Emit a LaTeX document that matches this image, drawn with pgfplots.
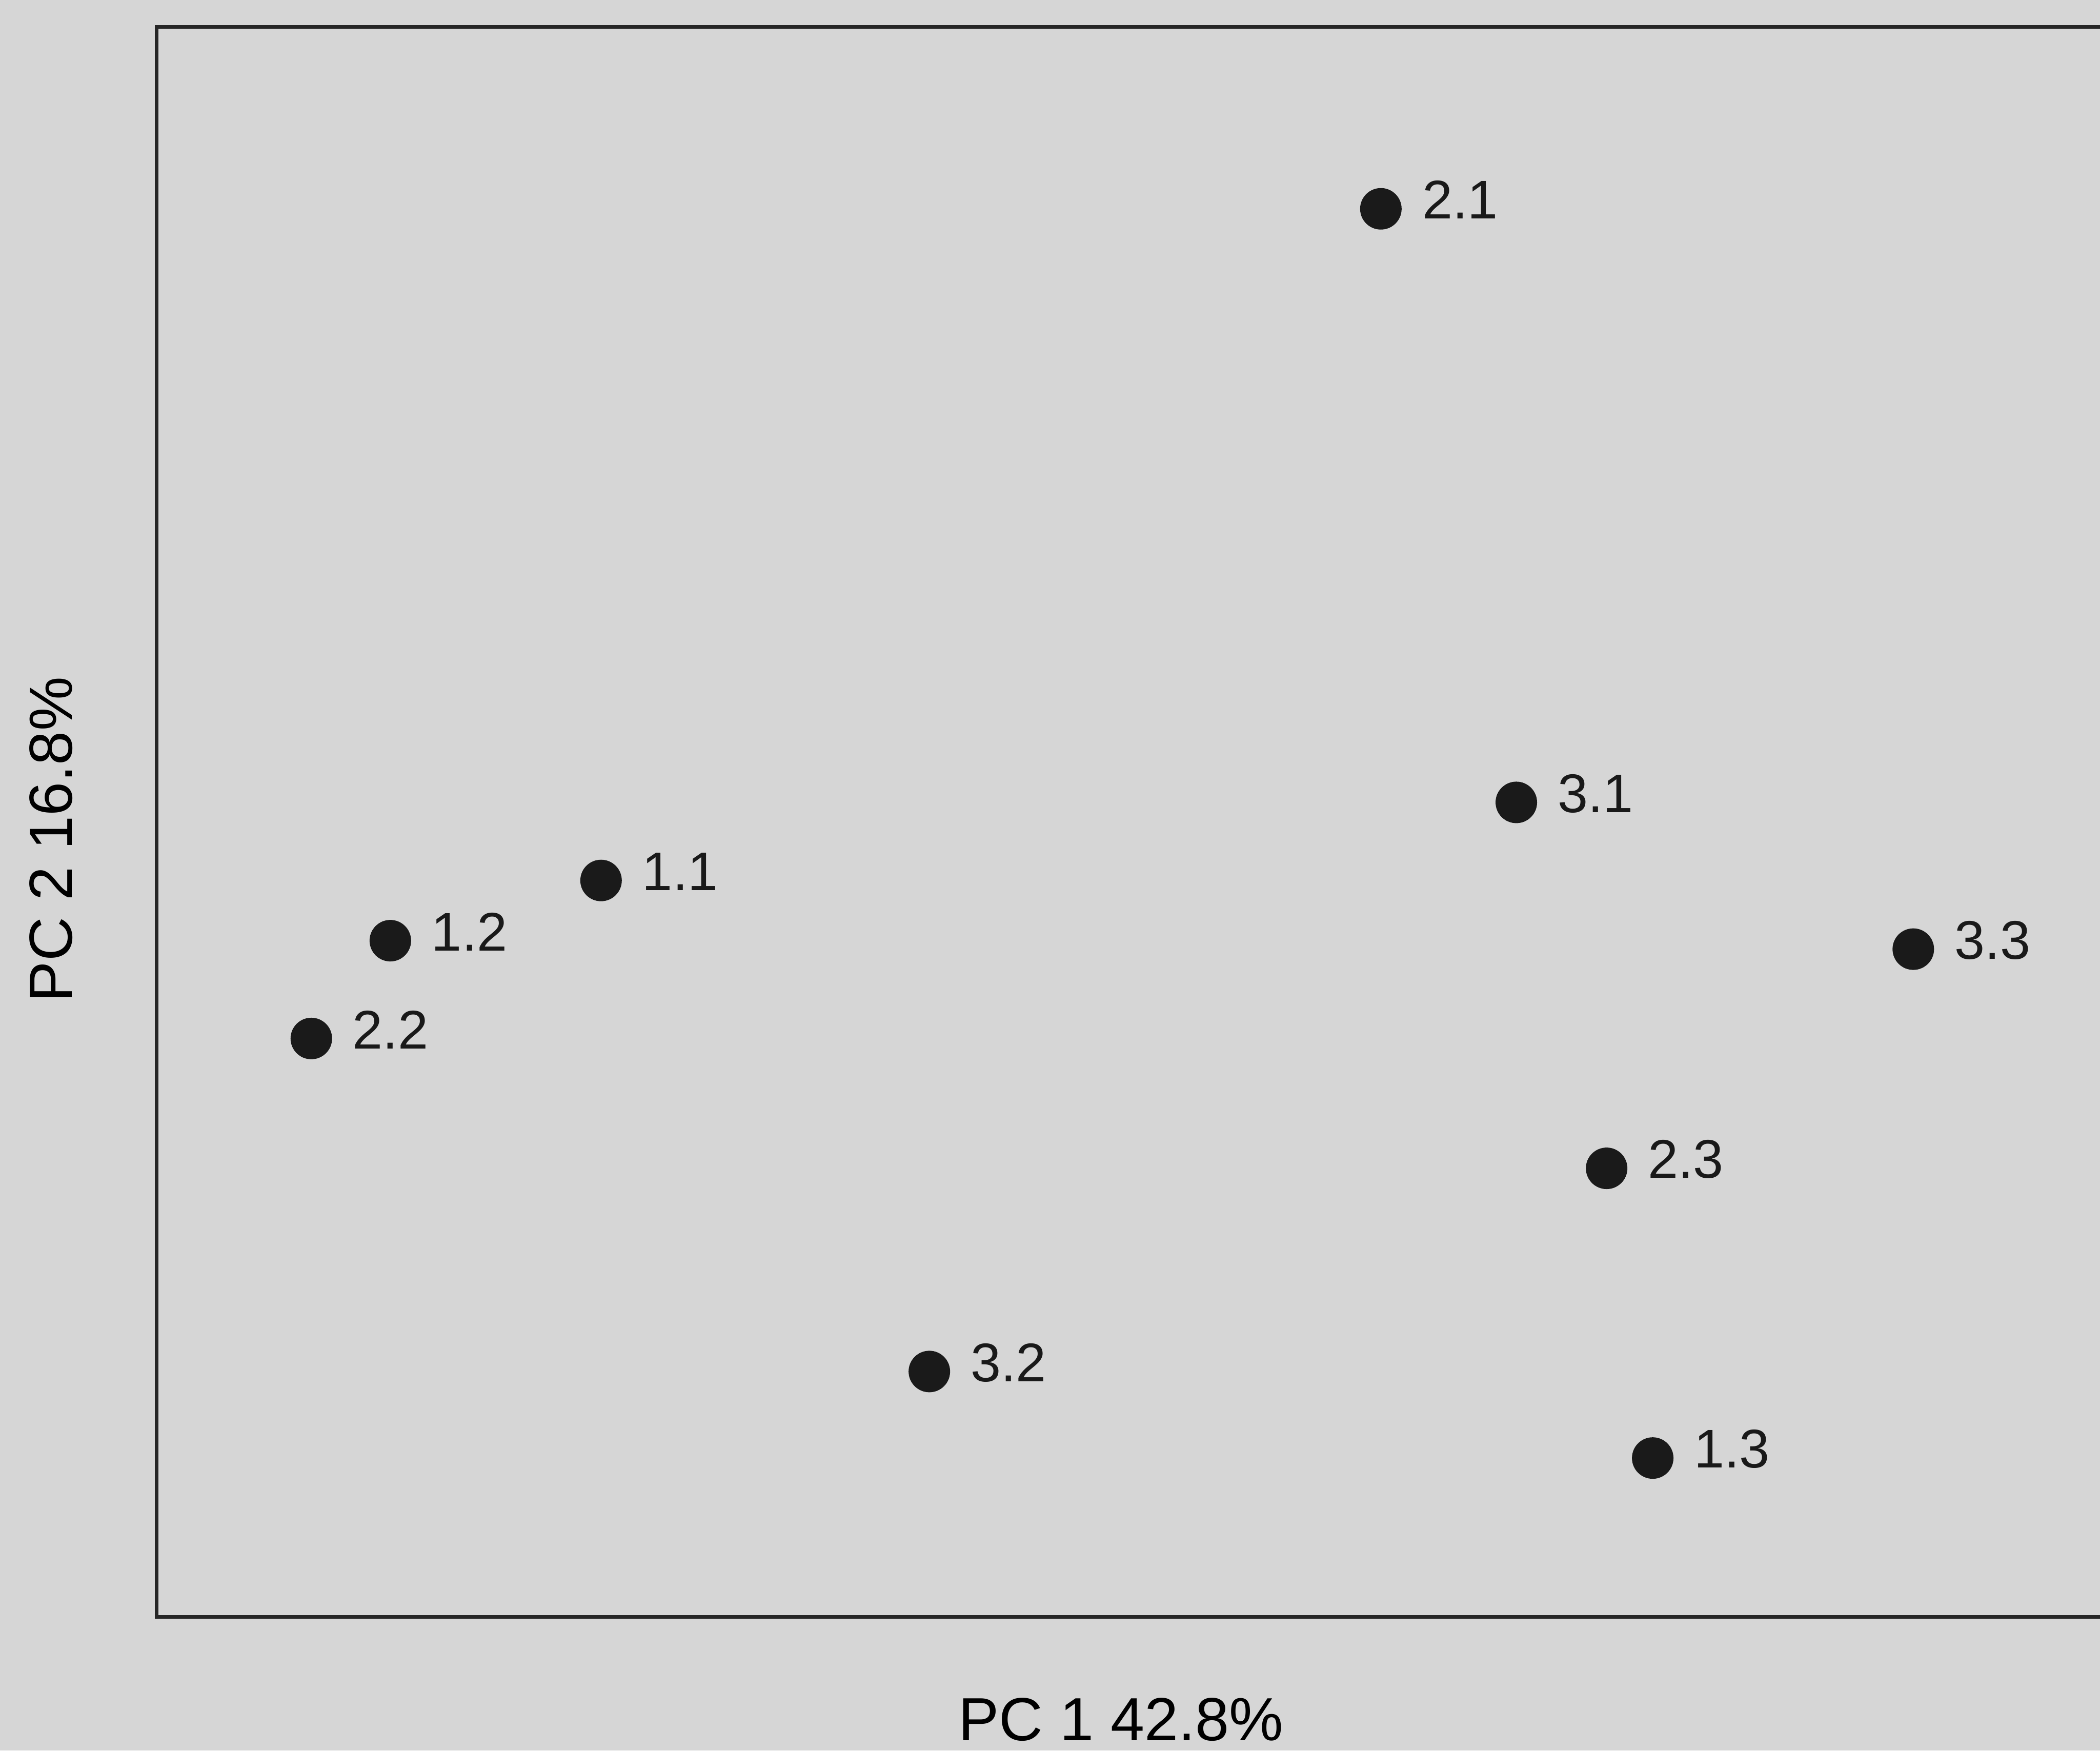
\documentclass[border=0pt]{standalone}
\usepackage{fontspec}
\setmainfont{Liberation Sans}
\usepackage{pgfplots}
\pgfplotsset{compat=1.18}

\definecolor{panelbg}{RGB}{214,214,214}
\definecolor{dotcol}{RGB}{26,26,26}

% scores of the nine samples on the first two principal components
\pgfplotstableread{
pc1     pc2     name
2.34    3.89    2.1
3.06    0.735   3.1
-1.805  0.32    1.1
-2.925  0.00    1.2
-3.345  -0.52   2.2
5.17    -0.045  3.3
3.54    -1.21   2.3
-0.06   -2.29   3.2
3.785   -2.75   1.3
}\scores

\begin{document}
\begin{tikzpicture}
  \useasboundingbox (0,0) rectangle (16cm,13.337cm);
  \fill[panelbg] (0,0) rectangle (16cm,13.337cm);
  \clip (0,0) rectangle (16cm,13.337cm);
  \begin{axis}[
    at={(1.193cm,1.018cm)}, anchor=south west,
    scale only axis,
    width=14.932cm, height=12.115cm,
    xmin=-4.1675, xmax=6.25,
    ymin=-3.595, ymax=4.8575,
    xtick=\empty, ytick=\empty,
    axis line style={line width=0.8pt, black!85},
    clip=false,
    xlabel={PC 1 42.8\%},
    ylabel={PC 2 16.8\%},
    label style={font=\fontsize{13.2}{15}\selectfont},
    x label style={at={(axis description cs:0.492,-0.0775)}, anchor=base},
    y label style={at={(axis description cs:-0.0432,0.489)}, anchor=base},
  ]
    \addplot[
      only marks,
      mark=*,
      mark size=4.3pt,
      mark options={fill=dotcol, draw=dotcol},
      nodes near coords,
      point meta=explicit symbolic,
      every node near coord/.style={
        anchor=west, inner sep=0pt,
        xshift=0.308cm, yshift=0.068cm,
        font=\fontsize{11.8}{14}\selectfont, text=black!90
      },
    ] table[x=pc1, y=pc2, meta=name] {\scores};
  \end{axis}
\end{tikzpicture}
\end{document}
